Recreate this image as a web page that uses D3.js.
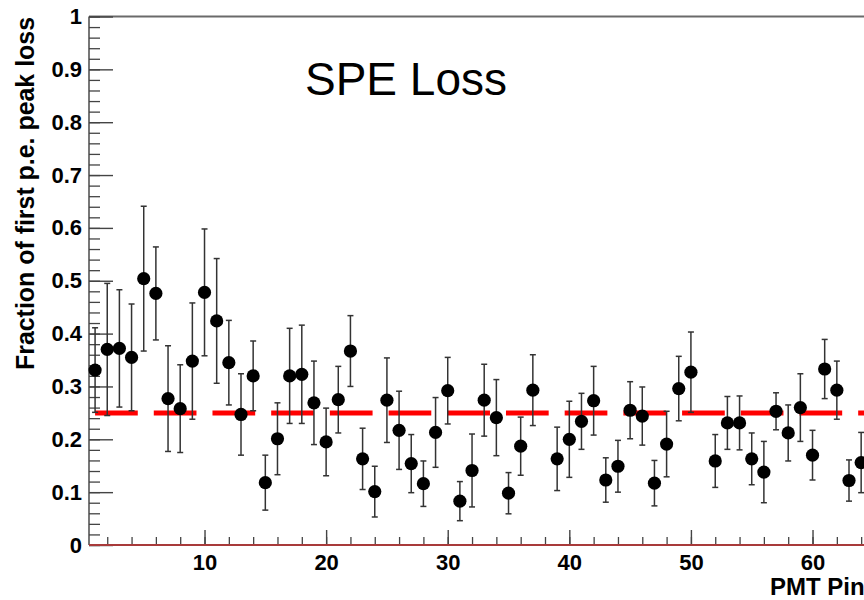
<!DOCTYPE html>
<html>
<head>
<meta charset="utf-8">
<script src="https://cdn.jsdelivr.net/npm/d3@7"></script>
<style>
  html, body { margin: 0; padding: 0; background: #fff; }
  svg { display: block; }
  text { font-family: "Liberation Sans", Arial, Helvetica, sans-serif; }
</style>
</head>
<body>
<svg id="chart" width="864" height="600"></svg>
<script>
// PMT pin numbers (pins 38 and 51 have no measurement)
const pins = [1,2,3,4,5,6,7,8,9,10,11,12,13,14,15,16,17,18,19,20,
  21,22,23,24,25,26,27,28,29,30,31,32,33,34,35,36,37,39,40,
  41,42,43,44,45,46,47,48,49,50,52,53,54,55,56,57,58,59,60,
  61,62,63,64];
// fraction of first p.e. peak loss per pin
const fractions = [0.331,0.370,0.372,0.355,0.504,0.476,0.277,0.258,0.348,0.478,
  0.424,0.345,0.247,0.320,0.118,0.201,0.320,0.323,0.269,0.195,
  0.275,0.367,0.163,0.101,0.274,0.217,0.154,0.116,0.213,0.292,
  0.083,0.141,0.274,0.241,0.098,0.187,0.293,0.163,0.200,
  0.234,0.273,0.123,0.149,0.255,0.244,0.117,0.191,0.296,0.327,
  0.159,0.231,0.231,0.163,0.138,0.253,0.212,0.260,0.170,
  0.333,0.293,0.122,0.156];
// symmetric uncertainties
const errors = [0.080,0.125,0.111,0.101,0.137,0.088,0.100,0.083,0.110,0.120,
  0.118,0.080,0.077,0.066,0.052,0.068,0.090,0.093,0.079,0.064,
  0.063,0.067,0.058,0.048,0.080,0.074,0.055,0.043,0.066,0.063,
  0.037,0.069,0.068,0.072,0.039,0.055,0.067,0.060,0.072,
  0.053,0.065,0.042,0.049,0.054,0.055,0.043,0.062,0.061,0.076,
  0.050,0.050,0.051,0.049,0.058,0.035,0.053,0.064,0.047,
  0.056,0.055,0.039,0.057];
// reference level
const refLevel = 0.25;
const refRange = [1, 72];
const xTickValues = [10,20,30,40,50,60];
const yTickValues = [0,0.1,0.2,0.3,0.4,0.5,0.6,0.7,0.8,0.9,1];
const yTickLabels = ["0","0.1","0.2","0.3","0.4","0.5","0.6","0.7","0.8","0.9","1"];

const points = pins.map((p, i) => ({pin: p, v: fractions[i], e: errors[i]}));

const svg = d3.select("#chart");
const plotLeft = 89, plotTop = 16.5, plotBottom = 545;
const unit = 12.16;

const x = d3.scaleLinear().domain([0.5, 72.5]).range([plotLeft, plotLeft + 72 * unit]);
const y = d3.scaleLinear().domain([0, 1]).range([plotBottom, plotTop]);

// frame: top edge and left axis line
svg.append("line").attr("x1", plotLeft).attr("x2", 1000).attr("y1", plotTop).attr("y2", plotTop)
  .attr("stroke", "#6a6a6a").attr("stroke-width", 2);
svg.append("line").attr("x1", plotLeft).attr("x2", plotLeft).attr("y1", plotTop).attr("y2", plotBottom)
  .attr("stroke", "#555").attr("stroke-width", 1.6);

// y axis: minor ticks every 0.02, major every 0.1
const yMinor = d3.axisLeft(y).tickValues(d3.range(0, 1.001, 0.02)).tickSize(-11).tickFormat("");
svg.append("g").attr("transform", `translate(${plotLeft},0)`).call(yMinor)
  .call(g => g.select(".domain").remove())
  .call(g => g.selectAll("line").attr("stroke", "#444").attr("stroke-width", 1.3));

const yMajor = d3.axisLeft(y).tickValues(yTickValues).tickSize(-24).tickPadding(7)
  .tickFormat((d, i) => yTickLabels[i]);
svg.append("g").attr("transform", `translate(${plotLeft},0)`).call(yMajor)
  .call(g => g.select(".domain").remove())
  .call(g => g.selectAll("line").attr("stroke", "#444").attr("stroke-width", 1.4))
  .call(g => g.selectAll("text").attr("font-size", 22).attr("font-weight", "bold")
    .attr("fill", "#000").attr("font-family", "Liberation Sans, Arial, sans-serif"));

// x axis: minor ticks every 2, major every 10
const xMinor = d3.axisBottom(x).tickValues(d3.range(2, 71, 2)).tickSize(-8).tickFormat("");
svg.append("g").attr("transform", `translate(0,${plotBottom})`).call(xMinor)
  .call(g => g.select(".domain").remove())
  .call(g => g.selectAll("line").attr("stroke", "#444").attr("stroke-width", 1.3));

const xMajor = d3.axisBottom(x).tickValues(xTickValues).tickSize(-15).tickPadding(9.5)
  .tickFormat(d3.format("d"));
svg.append("g").attr("transform", `translate(0,${plotBottom})`).call(xMajor)
  .call(g => g.select(".domain").remove())
  .call(g => g.selectAll("line").attr("stroke", "#444").attr("stroke-width", 1.4))
  .call(g => g.selectAll("text").attr("font-size", 22).attr("font-weight", "bold")
    .attr("fill", "#000").attr("font-family", "Liberation Sans, Arial, sans-serif"));

// bottom axis line
svg.append("line").attr("x1", plotLeft).attr("x2", 1000).attr("y1", plotBottom).attr("y2", plotBottom)
  .attr("stroke", "#a83a3a").attr("stroke-width", 2);

// reference level dashed line
svg.append("line")
  .attr("x1", x(refRange[0])).attr("x2", x(refRange[1]))
  .attr("y1", y(refLevel)).attr("y2", y(refLevel))
  .attr("stroke", "#ff0000").attr("stroke-width", 5)
  .attr("stroke-dasharray", "42.7,16");

// error bars
const eb = svg.append("g").attr("stroke", "#333").attr("stroke-width", 1.5);
eb.selectAll("line.bar").data(points).join("line").attr("class", "bar")
  .attr("x1", d => x(d.pin)).attr("x2", d => x(d.pin))
  .attr("y1", d => y(d.v + d.e)).attr("y2", d => y(d.v - d.e));
eb.selectAll("line.capT").data(points).join("line").attr("class", "capT")
  .attr("x1", d => x(d.pin) - 3).attr("x2", d => x(d.pin) + 3)
  .attr("y1", d => y(d.v + d.e)).attr("y2", d => y(d.v + d.e));
eb.selectAll("line.capB").data(points).join("line").attr("class", "capB")
  .attr("x1", d => x(d.pin) - 3).attr("x2", d => x(d.pin) + 3)
  .attr("y1", d => y(d.v - d.e)).attr("y2", d => y(d.v - d.e));

// markers
svg.append("g").selectAll("circle").data(points).join("circle")
  .attr("cx", d => x(d.pin)).attr("cy", d => y(d.v)).attr("r", 6.6)
  .attr("fill", "#000");

// titles
svg.append("text").attr("x", 305).attr("y", 95)
  .attr("font-size", 46).attr("fill", "#000").text("SPE Loss");

svg.append("text")
  .attr("transform", "translate(34,17) rotate(-90)")
  .attr("text-anchor", "end").attr("font-size", 25).attr("font-weight", "bold")
  .attr("textLength", 353).attr("lengthAdjust", "spacingAndGlyphs")
  .attr("fill", "#000").text("Fraction of first p.e. peak loss");

svg.append("text").attr("x", 770).attr("y", 595)
  .attr("font-size", 24).attr("font-weight", "bold").attr("fill", "#000")
  .text("PMT Pin Number");
</script>
</body>
</html>
